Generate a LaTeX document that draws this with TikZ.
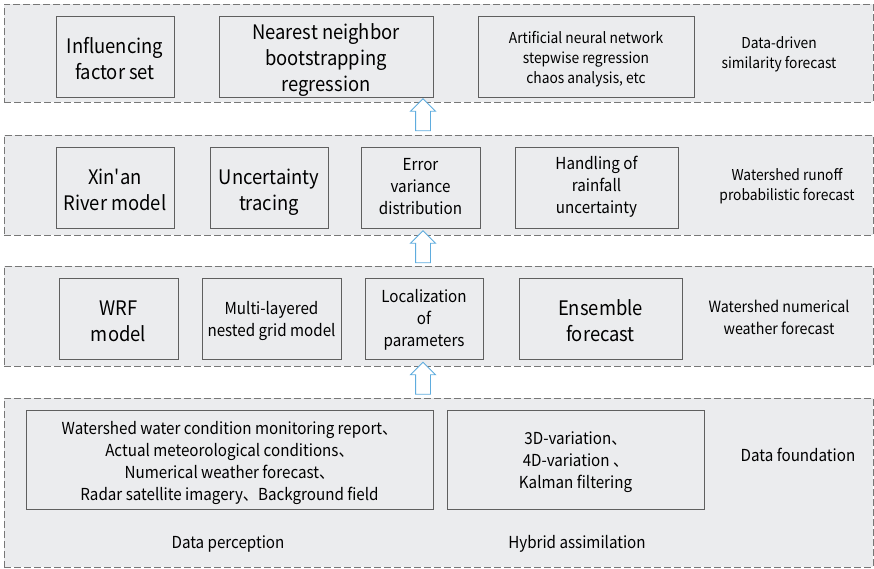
\documentclass[tikz,border=0pt]{standalone}
\usepackage{fontspec}
\setmainfont{Noto Sans CJK SC}[FakeStretch=0.92]
\usetikzlibrary{shapes.arrows,calc}
\definecolor{panelgray}{RGB}{235,236,238}
\definecolor{boxline}{RGB}{95,95,95}
\definecolor{arrowblue}{RGB}{95,172,222}
\begin{document}
\begin{tikzpicture}[x=1pt,y=-1pt,
    layer/.style={draw=boxline!85,dash pattern=on 7pt off 3pt,fill=panelgray,line width=0.9pt,inner sep=0pt,minimum width=869pt},
    item/.style={draw=boxline,fill=panelgray,line width=0.9pt,align=center,inner sep=0pt,minimum height=81pt,text height=#1,text depth=0pt},
    big/.style={font=\fontsize{20}{26}\selectfont},
    mid/.style={font=\fontsize{16.5}{22}\selectfont},
    side/.style={align=center,font=\fontsize{15}{20}\selectfont},
    uparrow/.style={single arrow,draw=arrowblue,fill=white,line width=0.9pt,shape border rotate=90,minimum height=32pt,minimum width=24pt,single arrow head extend=5pt,inner sep=7pt}]
  \useasboundingbox (0,0) rectangle (874,568);

  \node[layer,minimum height=98pt](L1) at (438.5,53){};
  \node[layer,minimum height=100pt](L2) at (438.5,185){};
  \node[layer,minimum height=100pt](L3) at (438.5,316){};
  \node[layer,minimum height=169pt](L4) at (438.5,482.5){};

  % data-driven layer
  \node[item=46pt,big,minimum width=118pt](inf) at (115,56.5){Influencing\\factor set};
  \node[item=69pt,big,minimum width=214pt](nn) at (326,56.5){Nearest neighbor\\bootstrapping\\regression};
  \node[item=53.6pt,side,minimum width=216pt](ann) at (586,56.5){Artificial neural network\\stepwise regression\\chaos analysis, etc};
  \node[side,anchor=base](lab1) at (779,68.3){Data-driven\\similarity forecast};

  % runoff layer
  \node[item=46pt,big,minimum width=118pt](xin) at (115,187.5){Xin\textquotesingle an\\River model};
  \node[item=46pt,big,minimum width=118pt](unc) at (269,187.5){Uncertainty\\tracing};
  \node[item=53pt,mid,minimum width=119pt](err) at (420.5,187.5){Error\\variance\\distribution};
  \node[item=52pt,mid,minimum width=163pt](hand) at (596.5,187.5){Handling of\\rainfall\\uncertainty};
  \node[side,anchor=base](lab2) at (787,200){Watershed runoff\\probabilistic forecast};

  % weather layer
  \node[item=46pt,big,minimum width=119pt](wrf) at (118.5,318.5){WRF\\model};
  \node[item=35pt,mid,minimum width=139pt](mlg) at (271.5,318.5){Multi-layered\\nested grid model};
  \node[item=56pt,mid,minimum width=118pt](loc) at (424,318.5){Localization\\of\\parameters};
  \node[item=46pt,big,minimum width=163pt](ens) at (600.5,318.5){Ensemble\\forecast};
  \node[side,font=\fontsize{15.5}{21.7}\selectfont,anchor=base](lab3) at (779,334){Watershed numerical\\weather forecast};

  % data layer
  \node[item=81.5pt,mid,minimum width=407pt,minimum height=99pt](obs) at (229.5,459.5){Watershed water condition monitoring report、\\Actual meteorological conditions、\\Numerical weather forecast、\\Radar satellite imagery、Background field};
  \node[item=57pt,mid,minimum width=257pt,minimum height=99pt](asm) at (575.5,459.5){3D-variation、\\4D-variation 、\\Kalman filtering};
  \node[mid,anchor=base](perc) at (228,548.3){Data perception};
  \node[mid,anchor=base](hyb) at (577,548.3){Hybrid assimilation};
  \node[mid,anchor=base](lab4) at (798,461){Data foundation};

  \node[uparrow](up3) at ($(L4.north)!0.5!(L3.south)$) [xshift=-15.5pt]{};
  \node[uparrow](up2) at ($(L3.north)!0.5!(L2.south)$) [xshift=-15.5pt]{};
  \node[uparrow](up1) at ($(L2.north)!0.5!(L1.south)$) [xshift=-15.5pt]{};
\end{tikzpicture}
\end{document}
